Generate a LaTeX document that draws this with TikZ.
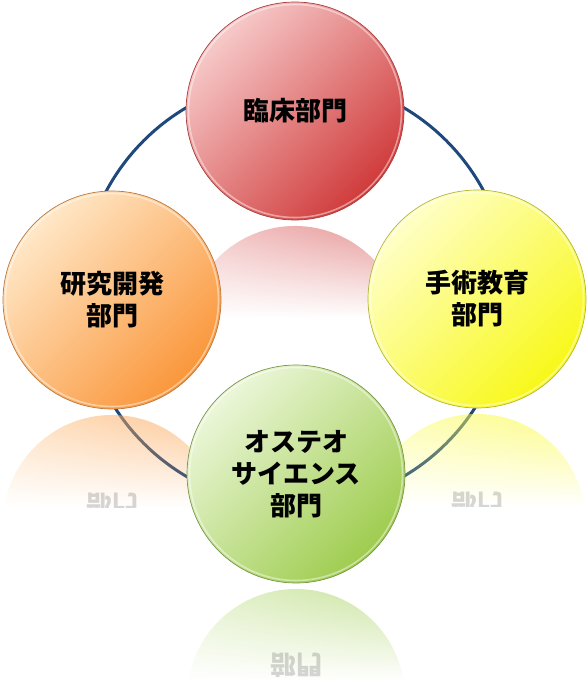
\documentclass[tikz,border=0pt]{standalone}
\usepackage{fontspec}
\newfontfamily\jp{Noto Sans CJK JP}
\usetikzlibrary{fadings}
\definecolor{ringblue}{RGB}{31,73,125}
\definecolor{redL}{RGB}{247,202,202}
\definecolor{redD}{RGB}{208,58,58}
\definecolor{redE}{RGB}{170,60,60}
\definecolor{oraL}{RGB}{255,232,200}
\definecolor{oraD}{RGB}{250,150,58}
\definecolor{oraE}{RGB}{190,120,60}
\definecolor{yelL}{RGB}{255,255,200}
\definecolor{yelD}{RGB}{248,248,24}
\definecolor{yelE}{RGB}{180,180,60}
\definecolor{grnL}{RGB}{236,247,218}
\definecolor{grnD}{RGB}{158,204,78}
\definecolor{grnE}{RGB}{120,150,70}
\tikzfading[name=reflfade, top color=transparent!42, bottom color=transparent!100]
\tikzset{
  ring/.style={draw=ringblue, line width=3pt},
  circ/.style={circle, minimum size=218pt, inner sep=0pt, align=center,
    line width=0.7pt,
    font=\jp\bfseries\fontsize{26}{32}\selectfont},
  bevel/.style={draw=white, opacity=0.45, line width=1.6pt},
  refltext/.style={align=center, text=black, text opacity=0.16,
    font=\jp\bfseries\fontsize{26}{32}\selectfont}
}
\newcommand\reflpath[2]{(#1-107.7,#2+207) arc[start angle=188.97,end angle=351.03,radius=109] -- cycle}
\newcommand\reflcirc[4]{% cx, cy, light, dark
  \shade[left color=#3, right color=#4, path fading=reflfade] \reflpath{#1}{#2};}
\begin{document}
\begin{tikzpicture}[x=1pt,y=-1pt]
\useasboundingbox (0,0) rectangle (588,696);
% ring connecting the four departments
\coordinate (ringc) at (295,292);
\draw[ring] (ringc) circle[radius=214];
% reflections
\reflcirc{295}{111}{redL!70!redD}{redD}
\reflcirc{112}{300}{oraL!60!oraD}{oraD}
\reflcirc{477}{299}{yelL!60!yelD}{yelD}
\reflcirc{296}{474}{grnL!60!grnD}{grnD}
\begin{scope}
  \clip \reflpath{112}{300};
  \node[refltext, yscale=-1, transform shape] (rLeft) at (112,505) {部門};
\end{scope}
\begin{scope}
  \clip \reflpath{477}{299};
  \node[refltext, yscale=-1, transform shape] (rRight) at (477,504) {部門};
\end{scope}
\begin{scope}
  \clip \reflpath{296}{474};
  \node[refltext, yscale=-1, transform shape] (rBot) at (296,665) {部門};
\end{scope}
% circles
\node[circ, draw=redE, top color=redL, bottom color=redD, shading angle=45] (top) at (295,111) {臨床部門};
\node[circ, draw=oraE, top color=oraL, bottom color=oraD, shading angle=45] (left) at (112,300) {研究開発\\部門};
\node[circ, draw=yelE, top color=yelL, bottom color=yelD, shading angle=45] (right) at (477,299) {手術教育\\部門};
\node[circ, draw=grnE, top color=grnL, bottom color=grnD, shading angle=45] (bot) at (296,474) {オステオ\\サイエンス\\部門};
\foreach \n in {top,left,right,bot}{
  \draw[bevel] (\n.center) circle[radius=106.5];
}
\end{tikzpicture}
\end{document}
